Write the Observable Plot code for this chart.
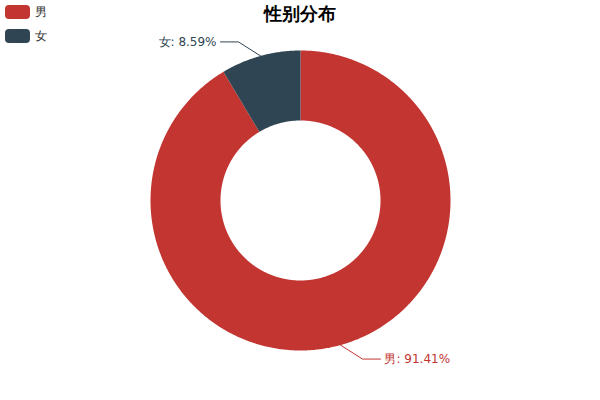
<!DOCTYPE html>
<html><head><meta charset="utf-8">
<script src="https://cdn.jsdelivr.net/npm/d3@7"></script>
<script src="https://cdn.jsdelivr.net/npm/@observablehq/plot@0.6"></script>
<style>
body{margin:0;font-family:sans-serif;background:#fff}
#wrap{position:relative;width:600px;height:400px;background:#fff;overflow:hidden}
#chart{position:absolute;left:0;top:0}
#title{position:absolute;left:0;top:5px;width:600px;text-align:center;font-weight:bold;font-size:18px;line-height:18px;color:#000}
.lg{position:absolute;left:5px;height:14px;font-size:12px;line-height:14px;color:#333;font-family:"DejaVu Sans",sans-serif}
.lg .sw{position:absolute;left:0;top:0;width:25px;height:14px;border-radius:4px}
.lg .tx{position:absolute;left:30px;top:0;white-space:nowrap}
</style></head><body>
<div id="wrap"><div id="chart"></div><div id="title">性别分布</div><div id="legend"></div></div>
<script>
const categories = ["男", "女"];
const values = [91.41, 8.59];
const colors = ["#c23531", "#2f4554"];
const labels = ["男: 91.41%", "女: 8.59%"];

const R0 = 80, R1 = 150;
const total = d3.sum(values);
// slices clockwise from top
let acc = 0;
const slices = categories.map((c, i) => {
  const a0 = acc / total * 2 * Math.PI;
  acc += values[i];
  const a1 = acc / total * 2 * Math.PI;
  return {cat: c, a0, a1, mid: (a0 + a1) / 2, label: labels[i]};
});
const pt = (r, a) => [r * Math.sin(a), r * Math.cos(a)];

const poly = [];
for (const s of slices) {
  const n = Math.max(8, Math.ceil((s.a1 - s.a0) / (Math.PI / 360)));
  for (let k = 0; k <= n; k++) { const a = s.a0 + (s.a1 - s.a0) * k / n; const [x, y] = pt(R1, a); poly.push({cat: s.cat, x, y}); }
  for (let k = n; k >= 0; k--) { const a = s.a0 + (s.a1 - s.a0) * k / n; const [x, y] = pt(R0, a); poly.push({cat: s.cat, x, y}); }
}

const leaders = [], texts = [];
for (const s of slices) {
  const [ex, ey] = pt(R1, s.mid);
  const dir = Math.sin(s.mid) >= 0 ? 1 : -1;
  const vdir = Math.cos(s.mid) >= 0 ? 1 : -1;
  const bx = ex + dir * 22, by = ey + vdir * 14;
  const cx = bx + dir * 18;
  leaders.push({cat: s.cat, x: ex, y: ey}, {cat: s.cat, x: bx, y: by}, {cat: s.cat, x: cx, y: by});
  texts.push({cat: s.cat, x: cx + dir * 4, y: by, label: s.label, dir});
}

const chart = Plot.plot({
  width: 600, height: 400,
  margin: 0,
  x: {domain: [-300, 300], range: [0, 600], axis: null},
  y: {domain: [-200, 200], range: [400, 0], axis: null},
  color: {domain: categories, range: colors},
  style: {background: "transparent", fontFamily: "'DejaVu Sans', sans-serif"},
  marks: [
    Plot.line(poly, {x: "x", y: "y", z: "cat", fill: "cat", stroke: "none"}),
    Plot.line(leaders, {x: "x", y: "y", z: "cat", stroke: "cat", strokeWidth: 1}),
    Plot.text(texts.filter(d => d.dir > 0), {x: "x", y: "y", text: "label", fill: "cat", textAnchor: "start", fontSize: 12}),
    Plot.text(texts.filter(d => d.dir < 0), {x: "x", y: "y", text: "label", fill: "cat", textAnchor: "end", fontSize: 12})
  ]
});
document.getElementById("chart").appendChild(chart);

const lg = document.getElementById("legend");
categories.forEach((c, i) => {
  const d = document.createElement("div");
  d.className = "lg";
  d.style.top = (5 + i * 24) + "px";
  d.innerHTML = `<div class="sw" style="background:${colors[i]}"></div><div class="tx">${c}</div>`;
  lg.appendChild(d);
});
</script>
</body></html>
